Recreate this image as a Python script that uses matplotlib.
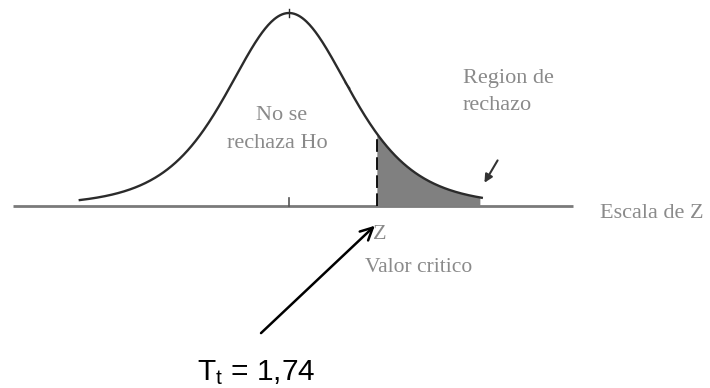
import math
import numpy as np
import matplotlib.pyplot as plt

plt.rcParams['mathtext.fontset'] = 'custom'
plt.rcParams['mathtext.rm'] = 'Liberation Sans'
plt.rcParams['mathtext.it'] = 'Liberation Sans'

# curva t de Student tal como aparece en el dibujo (en unidades de Z)
grados_libertad = 5
z_inicio, z_fin = -3.31, 3.05     # extremos dibujados de la curva
z_critico = 1.39                  # linea discontinua
z_cola = 3.02                     # fin de la zona sombreada
eje_z = [-4.37, 4.50]             # recta "Escala de Z"
z_marca_curva = 0.92              # marquita sobre la curva
valor_critico = "1,74"

texto_acepta = ["No se", "rechaza Ho"]
texto_rechazo = ["Region de", "rechazo"]
texto_eje = "Escala de Z"
texto_z = "Z"
texto_critico = "Valor critico"

W, H = 710, 388


def densidad_t(t, nu):
    c = math.gamma((nu + 1) / 2) / (math.sqrt(nu * math.pi) * math.gamma(nu / 2))
    return c * (1 + t ** 2 / nu) ** (-(nu + 1) / 2)


def at(px, py):
    # posicion en pixeles de la imagen -> fraccion de ejes
    return px / W, 1 - py / H


fig = plt.figure(figsize=(W / 100, H / 100), dpi=100)
ax = fig.add_axes([0, 0, 1, 1])
ax.set_xlim(-289 / 63.2, 421 / 63.2)
ax.set_ylim(-182 / 508.4, 206 / 508.4)
ax.axis('off')

# eje horizontal
ax.plot(eje_z, [0, 0], color='#7a7a7a', lw=2.0, solid_capstyle='butt', zorder=1)
ax.plot([0, 0], [0, 0.016], color='#555555', lw=1.2, zorder=2)

# curva
z = np.linspace(z_inicio, z_fin, 400)
f = densidad_t(z, grados_libertad)
ax.plot(z, f, color='#2b2b2b', lw=1.7, zorder=3)
ax.plot([0, 0], [f.max() - 0.008, f.max() + 0.008], color='#2b2b2b', lw=1.0)
ax.plot([z_marca_curva], [densidad_t(z_marca_curva, grados_libertad)],
        marker=(2, 0, 40), ms=6, mew=1.0, color='#2b2b2b')

# region de rechazo
zs = np.linspace(z_critico, z_cola, 200)
ax.fill_between(zs, 0, densidad_t(zs, grados_libertad), color='#808080', lw=0, zorder=2)
ax.plot([z_critico, z_critico], [0, densidad_t(z_critico, grados_libertad)],
        color='black', lw=1.3, dashes=(7, 3), zorder=4)

# flecha pequena hacia la cola
ax.annotate('', xy=(3.07, 0.041), xytext=at(499, 158), textcoords='axes fraction',
            arrowprops=dict(arrowstyle='-|>', color='#333333', lw=1.5, mutation_scale=12))

# flecha grande hacia el valor critico
ax.annotate('', xy=(z_critico, -0.035), xytext=at(259, 335), textcoords='axes fraction',
            arrowprops=dict(arrowstyle='->', color='black', lw=1.8, mutation_scale=22))

gris = '#8a8a8a'
serif = 'Liberation Serif'
ax.text(*at(282, 115), texto_acepta[0], transform=ax.transAxes, ha='center', va='center',
        fontsize=16, color=gris, family=serif)
ax.text(*at(277, 143), texto_acepta[1], transform=ax.transAxes, ha='center', va='center',
        fontsize=16, color=gris, family=serif)
ax.text(*at(463, 78), texto_rechazo[0], transform=ax.transAxes, ha='left', va='center',
        fontsize=16, color=gris, family=serif)
ax.text(*at(463, 106), texto_rechazo[1], transform=ax.transAxes, ha='left', va='center',
        fontsize=16, color=gris, family=serif)
ax.text(*at(600, 213), texto_eje, transform=ax.transAxes, ha='left', va='center',
        fontsize=16, color=gris, family=serif)
ax.text(*at(373, 235), texto_z, transform=ax.transAxes, ha='left', va='center',
        fontsize=16, color=gris, family=serif)
ax.text(*at(365, 268), texto_critico, transform=ax.transAxes, ha='left', va='center',
        fontsize=15.5, color=gris, family=serif)

ax.text(*at(197, 380), r'T$_\mathrm{t}$ = ' + valor_critico, transform=ax.transAxes,
        ha='left', va='baseline', fontsize=21.5, color='black', family='Liberation Sans')

fig.savefig('out.png', dpi=100)
